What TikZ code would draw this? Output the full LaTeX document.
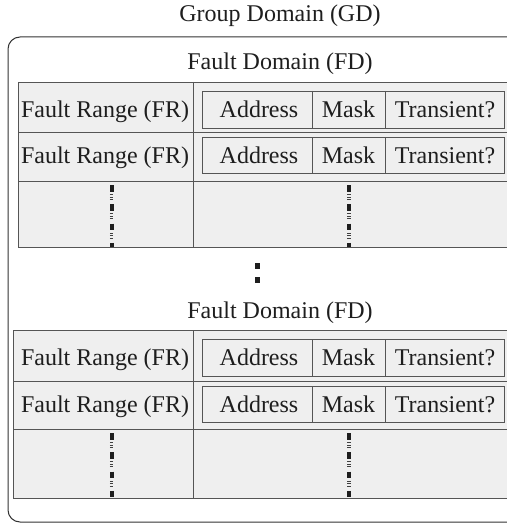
\documentclass[tikz,border=0pt]{standalone}
\usepackage{fontspec}
\setmainfont{Liberation Serif}
\newfontfamily\labelfont{Liberation Serif}
\definecolor{cellgray}{HTML}{EFEFEF}
\definecolor{rulegray}{HTML}{555555}
\definecolor{inkdark}{HTML}{1E1E1E}
\begin{document}
\begin{tikzpicture}[x=1pt,y=-1pt,
  lbl/.style={inner sep=0pt, anchor=base, font=\labelfont\fontsize{24}{28}\selectfont, text=inkdark},
  rule/.style={draw=rulegray, line width=0.9pt},
  frame/.style={draw=black!80, line width=1pt, rounded corners=12pt},
  blk/.style={draw=inkdark, line width=4pt},
  tick/.style={draw=black!75, line width=0.8pt}]
\useasboundingbox (0,0) rectangle (506,524);

% outer group domain
\node[lbl] (gd) at (280,22) {Group Domain (GD)};
\draw[frame] (520,37) -- (8,37) -- (8,522) -- (520,522);

% two fault domains: top, row1 end, row2 end, bottom, left edge, id
\foreach \t/\a/\b/\c/\l/\n in {82/132/181/247/18/1, 330/381/429/498/13/2}{
  \fill[cellgray] (\l,\t) rectangle (520,\c);
  \foreach \y in {\t,\a,\b,\c}{ \draw[rule] (\l,\y) -- (520,\y); }
  \draw[rule] (\l,\t) -- (\l,\c);
  \draw[rule] (193,\t) -- (193,\c);
  \node[lbl] (fd\n) at (280,\t-12) {Fault Domain (FD)};
  % two fault ranges with their fields
  \foreach \r/\top/\bot in {1/\t+9/\t+46, 2/\a+5.5/\a+41.5}{
    \pgfmathsetmacro\base{(\top+\bot)/2+8}
    \draw[rule, fill=cellgray] (202,\top) rectangle (504,\bot);
    \draw[rule] (312,\top) -- (312,\bot);
    \draw[rule] (385,\top) -- (385,\bot);
    \node[lbl] (fr\n\r) at (105,\base) {Fault Range (FR)};
    \node[lbl] (ad\n\r) at (259,\base) {Address};
    \node[lbl] (mk\n\r) at (348.5,\base) {Mask};
    \node[lbl] (tr\n\r) at (445,\base) {Transient?};
  }
  % vertical ellipsis in both columns
  \foreach \x in {111.5,349}{
    \foreach \k in {0,1,2,3}{
      \pgfmathsetmacro\ya{\b+4+19.3*\k}
      \pgfmathsetmacro\yb{min(\ya+6.5,\c-0.5)}
      \draw[blk] (\x,\ya) -- (\x,\yb);
      \ifnum\k<3
        \foreach \d in {9.5,12,14.5}{
          \draw[tick] (\x-1.6,\ya+\d) -- (\x+1.6,\ya+\d);
        }
      \fi
    }
  }
}

% ellipsis between the fault domains
\fill[inkdark] (254.5,263) rectangle (259.5,269);
\fill[inkdark] (254.5,277) rectangle (259.5,283);
\end{tikzpicture}
\end{document}
